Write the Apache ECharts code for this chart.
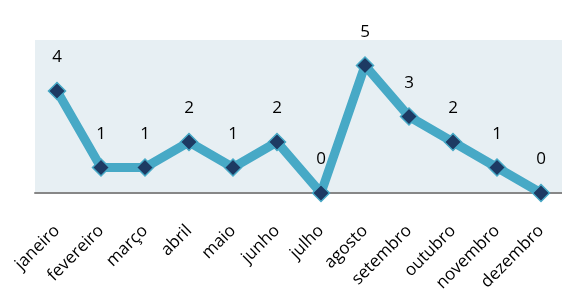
<!DOCTYPE html>
<html>
<head>
<meta charset="utf-8">
<script src="https://cdn.jsdelivr.net/npm/echarts@6/dist/echarts.min.js"></script>
<style>
  html, body { margin: 0; padding: 0; background: #fff; }
  #main { width: 562px; height: 290px; }
</style>
</head>
<body>
<div id="main"></div>
<script>
// meses e valores
var meses = ['janeiro', 'fevereiro', 'março', 'abril', 'maio', 'junho',
             'julho', 'agosto', 'setembro', 'outubro', 'novembro', 'dezembro'];
var valores = [4, 1, 1, 2, 1, 2, 0, 5, 3, 2, 1, 0];

var chart = echarts.init(document.getElementById('main'));

var option = {
  animation: false,
  grid: {
    left: 35, right: -1, top: 40, bottom: 97,
    outerBoundsMode: 'none', containLabel: false,
    show: true, backgroundColor: '#e7eff3', borderWidth: 0
  },
  xAxis: {
    type: 'category',
    data: meses,
    boundaryGap: true,
    axisLine: { show: true, lineStyle: { color: '#878787', width: 2 } },
    axisTick: { show: false },
    axisLabel: {
      rotate: 45, interval: 0, margin: 35,
      fontFamily: 'Open Sans', fontSize: 17, color: '#000'
    }
  },
  yAxis: {
    type: 'value', min: 0, max: 6,
    show: false,
    splitLine: { show: false }
  },
  series: [{
    type: 'line',
    data: valores,
    symbol: 'diamond',
    symbolSize: 17,
    lineStyle: { color: '#47a9c6', width: 9 },
    itemStyle: { color: '#1d3a63', borderColor: '#47a9c6', borderWidth: 1.5 },
    label: {
      show: true, position: 'top', distance: 16,
      fontFamily: 'Open Sans', fontSize: 17, color: '#000'
    }
  }]
};

chart.setOption(option);
</script>
</body>
</html>
